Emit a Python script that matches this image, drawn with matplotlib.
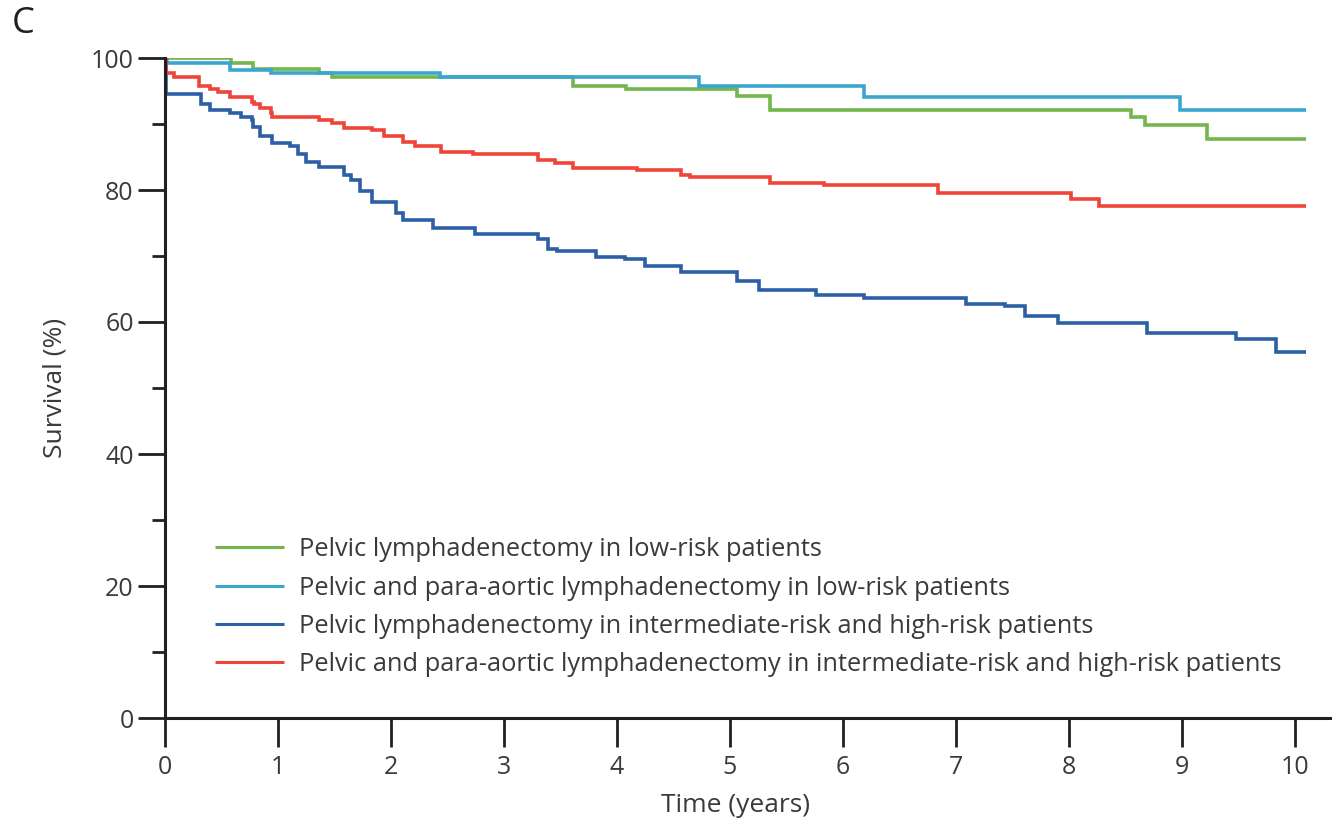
"""Kaplan-Meier survival curves, panel C."""

import matplotlib

matplotlib.use("Agg")
from matplotlib import pyplot as plt

plt.rcParams["font.family"] = ["Open Sans", "DejaVu Sans"]

# ---- data ----
green_t = [0, 0.58, 0.78, 1.36, 1.48, 3.61, 4.08, 5.06, 5.35, 8.55, 8.67, 9.22, 10.1]
green_s = [100, 99.2, 98.3, 97.7, 97.1, 95.8, 95.3, 94.2, 92.1, 91.0, 89.9, 87.8, 87.8]

cyan_t = [0, 0.02, 0.575, 0.94, 2.43, 4.73, 6.19, 8.98, 10.1]
cyan_s = [100, 99.2, 98.2, 97.7, 97.1, 95.7, 94.1, 92.1, 92.1]

blue_t = [0, 0.005, 0.32, 0.40, 0.575, 0.67, 0.77, 0.78, 0.84, 0.95, 1.11, 1.18, 1.25,
          1.36, 1.58, 1.65, 1.73, 1.83, 2.04, 2.11, 2.37, 2.74, 3.30, 3.39, 3.47, 3.81,
          4.07, 4.25, 4.57, 5.06, 5.26, 5.76, 6.19, 7.09, 7.43, 7.61, 7.90, 8.69, 9.48,
          9.83, 10.1]
blue_s = [100, 94.6, 93.0, 92.1, 91.7, 91.1, 90.6, 89.5, 88.2, 87.1, 86.7, 85.5, 84.2,
          83.5, 82.3, 81.5, 79.8, 78.2, 76.5, 75.5, 74.3, 73.3, 72.5, 71.1, 70.8, 69.9,
          69.5, 68.5, 67.6, 66.2, 64.9, 64.1, 63.6, 62.8, 62.4, 60.9, 59.9, 58.4, 57.4,
          55.4, 55.4]

red_t = [0, 0.01, 0.08, 0.30, 0.40, 0.47, 0.575, 0.77, 0.79, 0.84, 0.94, 0.95, 1.36,
         1.48, 1.58, 1.83, 1.94, 2.11, 2.21, 2.44, 2.73, 3.30, 3.45, 3.61, 4.18, 4.57,
         4.65, 5.35, 5.83, 6.84, 8.02, 8.27, 10.1]
red_s = [100, 97.8, 97.1, 95.8, 95.3, 94.8, 94.1, 93.4, 93.0, 92.4, 91.6, 91.0, 90.6,
         90.1, 89.4, 89.1, 88.2, 87.2, 86.6, 85.8, 85.4, 84.6, 84.1, 83.4, 83.0, 82.3,
         81.9, 81.1, 80.7, 79.6, 78.7, 77.5, 77.5]

labels = [
    "Pelvic lymphadenectomy in low-risk patients",
    "Pelvic and para-aortic lymphadenectomy in low-risk patients",
    "Pelvic lymphadenectomy in intermediate-risk and high-risk patients",
    "Pelvic and para-aortic lymphadenectomy in intermediate-risk and high-risk patients",
]
x_ticks = list(range(0, 11))
y_ticks = [0, 20, 40, 60, 80, 100]
y_minor = [10, 30, 50, 70, 90]

COLORS = ["#72b64c", "#3aa6cf", "#2d5fa6", "#ef4438"]
INK = "#231f20"
TEXT = "#3a3a3c"
LW = 2.6

fig = plt.figure(figsize=(13.32, 8.23), dpi=100)
ax = fig.add_axes([165 / 1332, 105 / 823, 1165 / 1332, 660 / 823])

series = [(green_t, green_s), (cyan_t, cyan_s), (blue_t, blue_s), (red_t, red_s)]
for (t, s), color, label in zip(series, COLORS, labels):
    ax.step(t, s, where="post", color=color, linewidth=LW, label=label,
            solid_capstyle="butt", solid_joinstyle="miter")

ax.set_xlim(0, 10.31)
ax.set_ylim(0, 100)
ax.set_xticks(x_ticks)
ax.set_yticks(y_ticks)
ax.set_yticks(y_minor, minor=True)

for side in ("top", "right"):
    ax.spines[side].set_visible(False)
for side in ("left", "bottom"):
    ax.spines[side].set_linewidth(2.2)
    ax.spines[side].set_color(INK)

ax.tick_params(axis="both", which="major", direction="out", width=2.0, color=INK,
               labelsize=18, labelcolor=TEXT)
ax.tick_params(axis="x", which="major", length=21, pad=6)
ax.tick_params(axis="y", which="major", length=19.5, pad=3)
ax.tick_params(axis="y", which="minor", length=9.5, width=2.0, color=INK)

ax.set_xlabel("Time (years)", fontsize=19, color=TEXT)
ax.set_ylabel("Survival (%)", fontsize=19, color=TEXT)
ax.xaxis.set_label_coords(0.490, -0.114)
ax.yaxis.set_label_coords(-0.084, 0.5)

leg = ax.legend(loc="center left", bbox_to_anchor=(0.043, 0.168), frameon=False,
                borderpad=0, borderaxespad=0, handlelength=2.7, handletextpad=0.6,
                labelspacing=0.52, fontsize=18.3)
for txt in leg.get_texts():
    txt.set_color(TEXT)
for line in leg.get_lines():
    line.set_linewidth(2.2)

fig.text(12 / 1332, 1 - 24 / 823, "C", fontsize=26, color=INK, va="center", ha="left")

fig.savefig("out.png", dpi=100)
